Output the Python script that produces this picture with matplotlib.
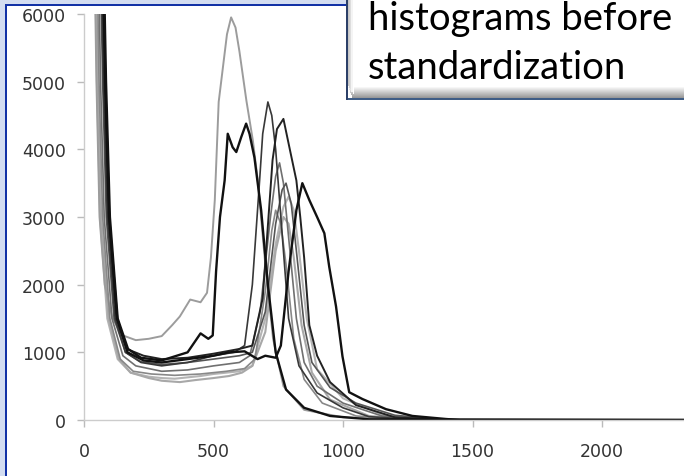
import matplotlib
matplotlib.use("Agg")
import matplotlib.pyplot as plt
from matplotlib.patches import Rectangle
import numpy as np

W, H = 684, 477

# Histogram curves: bin intensity (x) and pixel count (y), one per image
a_x = [40, 48, 60, 80, 110, 150, 200, 250, 300, 340, 370, 410, 450, 475, 490, 505, 520, 536, 552, 568, 585, 600, 627, 652, 671, 700, 730, 770, 850, 1000, 1300, 2320]
a_y = [7000, 5000, 3000, 2000, 1500, 1250, 1180, 1200, 1240, 1400, 1530, 1780, 1740, 1880, 2400, 3250, 4700, 5200, 5700, 5950, 5800, 5450, 4720, 4130, 3540, 2300, 1200, 500, 150, 40, 0, 0]

b_x = [75, 85, 100, 130, 170, 220, 300, 400, 450, 480, 497, 510, 525, 543, 555, 574, 588, 607, 626, 639, 658, 684, 710, 740, 780, 850, 950, 1100, 2320]
b_y = [7000, 5000, 3000, 1500, 1050, 920, 880, 1000, 1280, 1200, 1250, 2200, 3000, 3540, 4230, 4030, 3960, 4180, 4380, 4230, 3880, 3100, 2000, 1000, 450, 180, 60, 10, 0]

c_x = [65, 75, 90, 120, 160, 220, 300, 400, 500, 580, 620, 650, 678, 690, 710, 725, 740, 760, 790, 830, 900, 1000, 1100, 1300, 2320]
c_y = [7000, 5000, 3000, 1500, 1000, 850, 800, 850, 950, 1000, 1100, 2000, 3540, 4230, 4700, 4500, 4000, 3000, 1500, 800, 400, 180, 50, 0, 0]

d_x = [70, 80, 95, 125, 165, 230, 300, 400, 500, 600, 650, 690, 728, 745, 770, 793, 820, 835, 850, 870, 900, 950, 1050, 1200, 1400, 2320]
d_y = [7000, 5000, 3000, 1500, 1050, 950, 900, 920, 980, 1050, 1100, 1800, 3840, 4300, 4450, 4030, 3540, 3000, 2400, 1400, 950, 560, 220, 40, 0, 0]

e_x = [72, 82, 97, 128, 168, 230, 300, 400, 500, 560, 620, 670, 700, 740, 760, 790, 820, 843, 870, 900, 928, 947, 973, 998, 1024, 1075, 1166, 1268, 1397, 1450, 2320]
e_y = [7000, 5000, 3000, 1500, 1000, 880, 850, 900, 950, 1000, 1015, 900, 950, 920, 1100, 2200, 3100, 3500, 3250, 3000, 2760, 2260, 1680, 940, 410, 310, 160, 60, 15, 0, 0]

f_x = [55, 64, 78, 108, 150, 200, 300, 400, 500, 600, 640, 680, 720, 740, 755, 770, 790, 820, 850, 900, 1000, 1150, 1350, 2320]
f_y = [7000, 5000, 3000, 1500, 950, 800, 720, 740, 800, 850, 950, 1600, 3000, 3600, 3800, 3500, 2700, 1500, 850, 500, 250, 60, 0, 0]

g_x = [42, 50, 62, 90, 130, 180, 250, 300, 350, 400, 450, 500, 550, 600, 650, 700, 740, 770, 790, 810, 830, 860, 900, 1000, 1150, 1350, 2320]
g_y = [7000, 5000, 3000, 1500, 900, 700, 640, 620, 610, 630, 650, 680, 700, 720, 800, 1500, 2600, 3150, 3300, 3100, 2500, 1500, 750, 320, 80, 0, 0]

h_x = [62, 72, 86, 116, 160, 220, 300, 400, 500, 600, 650, 700, 740, 765, 780, 800, 820, 850, 880, 950, 1050, 1200, 1400, 2320]
h_y = [7000, 5000, 3000, 1500, 1000, 860, 820, 850, 900, 950, 1000, 1600, 2900, 3400, 3500, 3200, 2500, 1400, 850, 480, 250, 70, 0, 0]

i_x = [45, 53, 66, 95, 135, 180, 250, 300, 370, 430, 500, 560, 610, 650, 700, 740, 770, 790, 810, 840, 880, 950, 1100, 1300, 2320]
i_y = [7000, 5000, 3000, 1500, 900, 700, 620, 580, 560, 590, 620, 650, 700, 800, 1300, 2500, 3000, 2900, 2400, 1400, 700, 300, 60, 0, 0]

j_x = [50, 58, 72, 100, 140, 190, 260, 350, 450, 550, 620, 660, 700, 725, 740, 760, 780, 810, 850, 920, 1050, 1250, 2320]
j_y = [7000, 5000, 3000, 1500, 900, 720, 680, 660, 680, 720, 760, 900, 1900, 2800, 3100, 2900, 2300, 1200, 600, 250, 60, 0, 0]

x_ticks = [0, 500, 1000, 1500, 2000]
y_ticks = [0, 1000, 2000, 3000, 4000, 5000, 6000]
title_lines = ["histograms before", "standardization"]

series = [
    (g_x, g_y, "#b4b4b4", 1.5),
    (i_x, i_y, "#a8a8a8", 1.5),
    (a_x, a_y, "#9c9c9c", 1.4),
    (j_x, j_y, "#888888", 1.2),
    (f_x, f_y, "#707070", 1.2),
    (h_x, h_y, "#555555", 1.2),
    (c_x, c_y, "#383838", 1.2),
    (d_x, d_y, "#222222", 1.4),
    (b_x, b_y, "#111111", 1.7),
    (e_x, e_y, "#111111", 1.7),
]

fig = plt.figure(figsize=(W / 100, H / 100), dpi=100)
fig.patch.set_facecolor("white")


def fig_rect(x0, y0, w, h, color, z=0):
    """Rectangle in pixel coordinates measured from the top-left corner."""
    r = Rectangle((x0 / W, 1 - (y0 + h) / H), w / W, h / H,
                  transform=fig.transFigure, facecolor=color,
                  edgecolor="none", zorder=z)
    fig.add_artist(r)
    return r


# slide frame: pale strip and dark blue rule on the left and top
fig_rect(0, 0, 5, H, "#d3ddf1", z=0)
fig_rect(0, 0, 346, 5, "#d3ddf1", z=0)
fig_rect(5, 5, 2.2, H - 5, "#1232a6", z=1)
fig_rect(5, 5, 341, 2.2, "#1232a6", z=1)

ax = fig.add_axes([84 / W, 1 - 421 / H, (W - 84) / W, (421 - 15) / H])
ax.set_facecolor("none")
for xs, ys, col, lw in series:
    ax.plot(xs, ys, color=col, lw=lw, solid_joinstyle="round")

ax.set_xlim(0, (W - 84) / (129.5 / 500))
ax.set_ylim(0, 6000)
ax.set_xticks(x_ticks)
ax.set_yticks(y_ticks)
ax.set_xticklabels([str(v) for v in x_ticks])
ax.set_yticklabels([str(v) for v in y_ticks])
for s in ["top", "right"]:
    ax.spines[s].set_visible(False)
for s in ["left", "bottom"]:
    ax.spines[s].set_color("#cccccc")
    ax.spines[s].set_linewidth(1.0)
ax.tick_params(axis="both", colors="#bbbbbb", length=5, width=1.0,
               labelcolor="#333333", labelsize=12.5)
ax.tick_params(axis="y", pad=8)
ax.tick_params(axis="x", pad=11)
for lab in ax.get_xticklabels() + ax.get_yticklabels():
    lab.set_family("DejaVu Sans")

# caption box in the upper right corner with bevelled edge
bx0, by1 = 346, 101
fig_rect(bx0, 0, W - bx0, by1, "white", z=5)
# bottom bevel gradient
grad = np.linspace(1.0, 0.6, 12)
for k, g in enumerate(grad):
    fig_rect(bx0 + 2 + k * 0.4, 87 + k, W - bx0, 1.05, (g, g, g), z=6)
# left bevel gradient
lgrad = np.linspace(0.78, 1.0, 6)
for k, g in enumerate(lgrad):
    fig_rect(bx0 + 1.5 + k, 0, 1.05, 87 + k * 1.5, (g, g, g), z=6)
fig_rect(bx0, 99, W - bx0, 2.2, "#3f5d86", z=7)
fig_rect(bx0, 0, 1.8, by1, "#2c4068", z=7)

for k, line in enumerate(title_lines):
    fig.text(368 / W, 1 - (30 + 49 * k) / H, line, family="Lato",
             fontsize=27.5, color="black", ha="left", va="baseline", zorder=8)

fig.savefig("out.png", dpi=100)
